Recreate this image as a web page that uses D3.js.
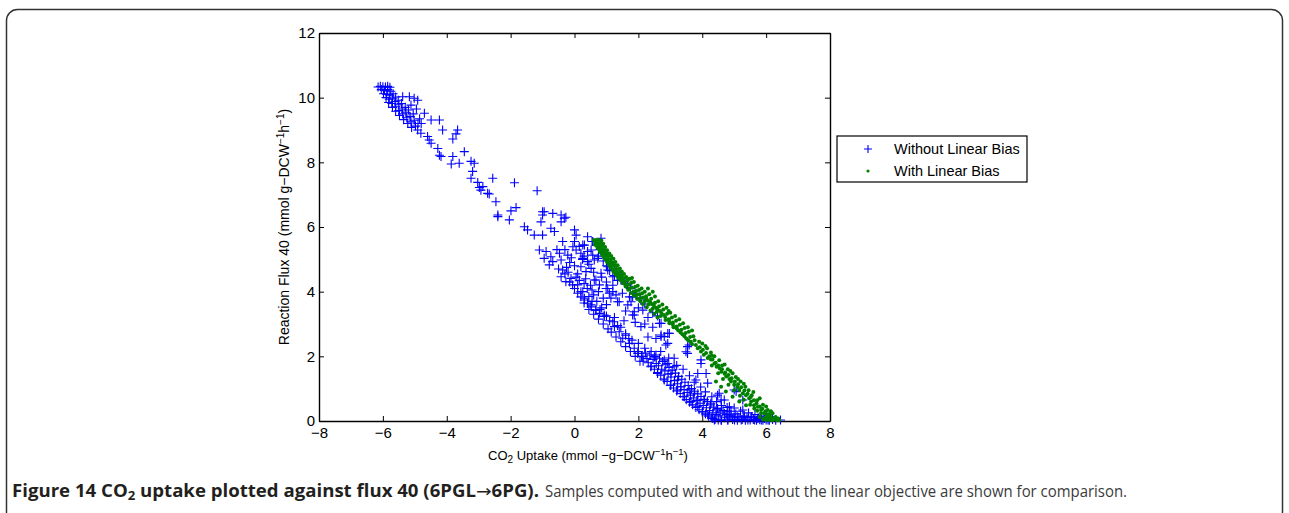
<!DOCTYPE html>
<html>
<head>
<meta charset="utf-8">
<script src="https://cdn.jsdelivr.net/npm/d3@7"></script>
<style>
  body { margin: 0; background: #fff; }
  svg { display: block; }
</style>
</head>
<body>
<div id="chart"></div>
<script>
// Axis ticks
const xTicks = [-8, -6, -4, -2, 0, 2, 4, 6, 8];
const yTicks = [0, 2, 4, 6, 8, 10, 12];

// Legend labels
const seriesNames = ["Without Linear Bias", "With Linear Bias"];

// Samples without linear bias: [CO2 uptake, flux 40]
const withoutBias = [
  // top-left wedge
  [-6.15,10.33],[-6.08,10.35],[-6.0,10.34],[-5.92,10.33],[-5.85,10.35],[-5.78,10.32],[-6.05,10.25],[-5.95,10.22],
  [-5.85,10.25],[-5.75,10.2],[-5.98,10.12],[-5.88,10.1],[-5.78,10.08],[-5.68,10.12],[-5.9,10.0],[-5.8,9.95],
  [-5.7,9.98],[-5.6,10.02],[-5.82,9.85],[-5.72,9.82],[-5.62,9.88],[-5.52,9.92],[-5.7,9.7],[-5.6,9.72],
  [-5.5,9.78],[-5.42,9.82],[-5.6,9.58],[-5.5,9.6],[-5.4,9.65],[-5.3,9.7],[-5.48,9.45],[-5.38,9.5],
  [-5.28,9.55],[-5.2,9.62],[-5.35,9.32],[-5.25,9.38],[-5.15,9.42],[-5.05,9.5],[-5.22,9.2],[-5.12,9.25],
  [-5.02,9.3],[-5.1,9.08],[-4.98,9.12],[-4.9,9.2],[-4.85,9.35],[-5.38,10.03],[-5.17,10.03],[-5.02,9.98],
  [-4.91,9.92],[-5.12,9.77],[-4.95,9.65],[-4.8,9.2],[-4.91,9.0],[-4.81,8.9],[-4.6,8.8],
  // sparse chain
  [-4.7,9.52],[-4.49,9.31],[-4.23,9.31],[-4.13,9.0],[-3.66,9.0],[-3.71,8.88],[-3.81,8.72],[-4.55,8.69],
  [-4.49,8.59],[-4.28,8.43],[-4.23,8.22],[-4.18,8.18],[-3.81,8.18],[-3.86,7.95],[-3.61,7.97],[-3.45,8.33],
  [-3.24,8.03],[-3.14,7.97],[-3.19,7.72],[-3.24,7.51],[-3.03,7.38],[-2.98,7.22],[-2.93,7.14],[-2.67,7.02],
  [-2.56,7.51],[-2.46,6.78],[-1.88,7.37],[-1.17,7.12],[-2.40,6.37],[-2.40,6.32],[-2.04,6.22],[-1.99,6.5],
  [-1.83,6.6],[-2.87,7.25],[-2.72,7.04],
  // middle region
  [-1.0,6.47],[-0.68,6.42],[-0.42,6.37],[-0.27,6.3],[-1.57,6.01],[-1.47,5.91],[-1.26,5.75],[-1.0,5.75],
  [-0.95,6.47],[-1.0,6.37],[-1.05,6.16],[-0.32,6.27],[-0.42,6.16],[-0.74,5.96],[-0.63,5.86],[-0.37,5.55],
  [0.0,5.91],[0.05,5.75],[0.0,5.55],[-0.05,5.39],[0.31,5.44],[-1.10,5.29],[-0.89,5.24],[-0.95,5.03],
  [-0.74,5.08],[-0.79,4.83],[-0.68,4.93],[-0.42,4.98],[-0.47,5.19],[-0.21,5.13],[-0.37,4.67],[-0.42,4.46],
  [-0.27,4.31],[-0.11,4.41],[-0.06,4.21],[0.10,4.21],[0.20,4.0],[0.20,3.84],[0.31,3.74],[0.41,3.64],
  [0.52,3.53],[0.67,3.43],[0.78,3.33],[0.93,3.23],[0.20,4.77],[0.41,4.93],[0.52,4.72],[0.67,4.36],
  [0.78,4.21],[1.04,4.10],[1.09,3.95],[1.35,3.69],[1.67,3.59],[1.82,3.84],[1.87,3.38],[0.05,5.29],
  [0.20,5.19],[0.25,5.0],[0.41,5.24],[0.57,5.13],[0.73,5.03],[0.57,5.55],[0.83,5.65],[1.04,4.67],
  [1.20,4.46],[1.46,4.36],[1.67,4.21],[-0.15,4.9],[-0.2,4.6],[0.1,4.55],[0.0,4.8],[-0.55,5.3],
  [-0.3,5.3],[-0.1,5.05],[0.15,5.4],[0.3,5.1],[0.45,4.85],[0.6,4.6],[0.35,4.4],[0.5,4.2],
  [0.75,4.0],[0.9,3.8],[1.0,3.6],[0.15,4.35],[0.4,4.1],[0.6,3.9],[0.7,3.7],[0.45,3.85],
  [-0.25,4.75],[0.05,4.45],[0.3,4.25],[0.55,4.05],[0.85,4.45],[1.0,4.3],[1.2,4.2],[1.3,3.9],
  [1.5,3.95],[1.6,3.4],[1.55,3.1],[1.9,3.05],[2.3,3.2],[2.45,2.9],[2.3,2.6],[2.55,2.55],
  [2.45,3.35],[2.6,3.25],[2.0,3.5],[2.2,3.0],
  // near the biased band
  [0.41,5.70],[0.26,5.44],[0.52,5.29],[0.26,5.03],[0.62,4.98],[0.88,5.29],[1.04,4.77],[0.36,4.62],
  [0.62,4.36],[0.83,4.57],[0.99,4.10],[1.20,4.0],[1.14,3.80],[1.40,3.69],[1.46,4.36],[1.72,3.84],
  [1.77,3.69],[1.87,3.28],[2.14,3.43],[2.08,2.92],[0.55,5.55],[0.7,5.45],[0.8,5.3],[0.95,5.15],
  [1.05,5.0],[1.15,4.85],[1.3,4.7],[1.4,4.55],[1.5,4.4],[1.65,4.25],[1.75,4.1],[1.9,3.95],
  [2.05,3.8],[2.2,3.62],[0.9,4.95],[1.0,4.8],[1.1,4.65],[1.25,4.5],[1.35,4.35],[0.75,5.1],
  // lower band, upper part
  [0.26,4.0],[0.31,3.80],[0.52,3.59],[0.67,3.43],[0.93,3.28],[1.20,3.07],[1.25,2.92],[1.40,2.76],
  [1.51,2.56],[1.72,2.40],[1.87,2.25],[1.98,2.09],[2.14,1.99],[2.55,2.04],[2.71,2.61],[2.66,3.02],
  [2.97,2.71],[2.86,2.35],[1.82,3.28],[2.08,3.74],[2.71,3.02],[2.71,2.66],[2.92,2.40],[3.49,2.14],
  [3.59,2.35],[3.86,1.47],[4.12,1.47],[3.96,1.78],[3.80,1.27],[4.17,1.17],[4.53,0.86],[5.0,0.96],
  [5.27,0.65],[5.27,0.34],[4.69,0.65],[3.12,1.94],[2.92,1.78],[3.54,2.09],[3.96,1.89],[4.48,0.80],
  [4.59,0.65],[4.85,0.44],[5.06,0.91],[2.92,2.71],[3.54,2.30],[2.81,2.61],[1.1,3.1],[1.6,2.7],
  [0.85,3.5],[1.35,2.95],[1.7,2.55],
  [-0.5,4.7],[-0.3,4.55],[-0.15,4.3],[0.0,4.1],[0.1,3.95],[0.3,3.65],[0.45,3.45],[0.6,3.3],
  [0.75,3.15],[0.9,3.0],[1.05,2.85],[1.15,2.75],[1.3,2.6],[1.45,2.45],[1.6,2.3],[1.75,2.15],
  [1.9,2.0],[2.05,1.85],[0.55,3.7],[0.8,3.45],[1.0,3.25],[1.25,3.2],[1.45,2.9],[1.6,2.65],
  [1.8,2.5],[2.0,2.4],[2.2,2.25],[2.4,2.15],
  // lower band, dense part
  [2.0,2.15],[2.1,2.0],[2.15,1.85],[2.22,2.1],[2.27,1.93],[2.31,1.8],[2.36,2.04],[2.4,1.7],
  [2.46,1.9],[2.5,1.6],[2.52,1.98],[2.56,1.78],[2.6,1.5],[2.63,1.71],[2.66,1.94],[2.7,1.42],
  [2.73,1.6],[2.76,1.84],[2.8,1.3],[2.83,1.55],[2.86,1.74],[2.9,1.22],[2.93,1.45],[2.96,1.66],
  [3.0,1.1],[3.02,1.36],[3.06,1.57],[3.1,1.02],[3.13,1.25],[3.16,1.48],[3.2,0.93],[3.22,1.15],
  [3.26,1.38],[3.31,0.85],[3.33,1.06],[3.36,1.29],[3.4,0.76],[3.43,0.97],[3.46,1.2],[3.5,0.66],
  [3.53,0.88],[3.56,1.1],[3.6,0.58],[3.63,0.8],[3.66,1.0],[3.7,0.5],[3.72,0.71],[3.76,0.92],
  [3.8,0.42],[3.83,0.63],[3.86,0.84],[3.9,0.35],[3.93,0.55],[3.96,0.76],[4.0,0.28],[4.03,0.48],
  [4.06,0.67],[4.1,0.22],[4.13,0.41],[4.16,0.6],[4.2,0.15],[4.23,0.32],[4.26,0.5],[4.3,0.1],
  [4.33,0.25],[4.36,0.43],[4.4,0.05],[4.43,0.2],[4.46,0.35],[4.5,0.03],[4.52,0.16],[4.56,0.28],
  [2.39,1.68],[2.60,1.47],[2.81,1.27],[3.02,1.11],[3.23,0.96],[3.44,0.75],[3.65,0.60],[3.86,0.44],
  [4.01,0.29],[4.17,0.19],[4.33,0.08],[3.02,1.47],[3.23,1.27],[3.33,1.06],[3.59,0.96],[3.75,0.86],
  [3.86,0.65],[4.06,0.65],[4.27,0.55],[4.48,0.39],[3.12,1.68],[2.81,1.89],[2.50,1.99],
  [2.7,2.15],[2.95,1.95],[3.2,1.72],[3.4,1.6],[3.6,1.4],[3.75,1.2],[3.95,1.05],[4.1,0.9],
  [4.3,0.75],[4.45,0.6],[4.6,0.48],[4.8,0.3],
  // bottom cluster
  [4.6,0.02],[4.69,0.24],[4.7,0.1],[4.75,0.2],[4.8,0.03],[4.85,0.15],[4.9,0.3],[4.9,0.19],
  [4.95,0.05],[5.0,0.12],[5.05,0.22],[5.1,0.02],[5.11,0.13],[5.15,0.1],[5.2,0.3],[5.25,0.05],
  [5.3,0.15],[5.32,0.13],[5.35,0.02],[5.4,0.1],[5.45,0.25],[5.5,0.03],[5.53,0.13],[5.55,0.12],
  [5.6,0.05],[5.65,0.2],[5.7,0.02],[5.74,0.08],[5.75,0.1],[5.8,0.04],[5.85,0.15],[5.9,0.02],
  [5.94,0.08],[5.95,0.08],[6.0,0.03],[6.05,0.12],[6.1,0.02],[6.2,0.05],[6.3,0.02],[6.45,0.03],
  [4.65,0.32],[4.78,0.42],[5.0,0.4],[4.38,0.03],[4.59,0.03],[4.80,0.03],[5.01,0.03],[5.22,0.03],
  [5.43,0.03],[5.64,0.03],[5.85,0.03],[6.06,0.03]
];

// Samples with linear bias: [CO2 uptake, flux 40]
const withBias = [
  [0.6,5.6],[0.68,5.6],[0.76,5.6],[0.84,5.58],[0.65,5.52],[0.73,5.5],[0.82,5.5],[0.9,5.48],
  [0.7,5.42],[0.79,5.4],[0.88,5.4],[0.96,5.38],[0.76,5.32],[0.85,5.3],[0.94,5.3],[1.02,5.28],
  [0.82,5.22],[0.91,5.2],[1.0,5.2],[1.09,5.18],[0.88,5.12],[0.97,5.1],[1.06,5.1],[1.15,5.1],
  [0.95,5.02],[1.04,5.0],[1.13,5.0],[1.22,5.02],[1.02,4.92],[1.1,4.9],[1.2,4.9],[1.28,4.92],
  [1.08,4.82],[1.17,4.8],[1.26,4.8],[1.35,4.82],[1.15,4.72],[1.24,4.7],[1.33,4.7],[1.42,4.72],
  [1.22,4.62],[1.31,4.6],[1.4,4.6],[1.48,4.62],[1.3,4.52],[1.38,4.5],[1.47,4.5],[1.55,4.55],
  [1.37,4.42],[1.45,4.4],[1.54,4.42],[1.62,4.45],
  [0.64,5.45],[0.72,5.36],[0.8,5.25],[0.87,5.16],[0.93,5.06],[1.0,4.97],[1.06,4.88],[1.12,4.78],
  [1.2,4.68],[1.27,4.58],[1.35,4.48],[1.43,4.36],[1.52,4.26],[1.6,4.16],[1.68,4.06],[1.77,3.96],
  [1.86,3.87],[1.96,3.78],[2.06,3.7],[2.14,3.62],[2.26,3.52],[2.38,3.42],[2.5,3.32],[2.6,3.2],
  [1.5,4.32],[1.58,4.3],[1.66,4.35],[1.72,4.4],[1.8,4.42],[1.62,4.2],[1.7,4.22],[1.78,4.28],
  [1.86,4.3],[1.72,4.1],[1.8,4.12],[1.9,4.15],[1.98,4.18],[1.85,4.0],[1.93,4.02],[2.02,4.05],
  [2.1,4.1],[1.95,3.9],[2.04,3.92],[2.12,3.95],[2.2,4.0],[2.3,4.1],[2.06,3.8],[2.15,3.82],
  [2.24,3.86],[2.34,3.92],[2.45,4.0],
  [2.2,3.7],[2.3,3.72],[2.4,3.78],[2.52,3.85],[2.32,3.6],[2.42,3.62],[2.52,3.66],[2.62,3.7],
  [2.45,3.48],[2.55,3.5],[2.65,3.55],[2.75,3.6],[2.58,3.38],[2.68,3.4],[2.78,3.45],[2.88,3.5],
  [2.95,3.4],[2.7,3.25],[2.8,3.28],[2.9,3.32],[3.0,3.35],[2.85,3.12],[2.95,3.15],[3.05,3.2],
  [3.15,3.25],[2.97,3.02],[3.08,3.05],[3.18,3.1],[3.28,3.15],[3.1,2.9],[3.2,2.92],[3.3,2.98],
  [3.4,3.02],[3.25,2.8],[3.35,2.82],[3.45,2.88],[3.55,2.9],[3.38,2.68],[3.48,2.72],[3.58,2.76],
  [3.68,2.8],[3.5,2.55],[3.62,2.6],[3.72,2.62],[3.64,2.45],[3.76,2.5],
  [2.25,3.78],[2.37,3.68],[2.48,3.58],[2.6,3.46],[2.72,3.34],[2.84,3.22],[2.96,3.1],[3.08,2.98],
  [3.2,2.86],[3.32,2.74],[3.44,2.62],[3.56,2.5],[3.68,2.38],[3.8,2.35],[3.92,2.28],[4.02,2.2],
  [4.12,2.1],[4.22,2.0],[4.32,1.9],[4.42,1.8],[4.5,1.72],[4.62,1.6],[4.72,1.5],[4.82,1.42],
  [4.92,1.32],[5.02,1.22],[5.12,1.14],[5.22,1.04],[5.32,0.94],[5.42,0.84],[5.52,0.74],[5.62,0.64],
  [5.7,0.55],[5.8,0.45],[5.88,0.38],[5.98,0.3],[6.1,0.22],[4.3,1.72],[4.5,1.48],[4.65,1.3],
  [4.82,1.12],[5.0,0.95],[5.18,0.78],[5.3,0.66],[5.5,0.5],[5.72,0.32],[4.3,2.02],[4.62,1.72],
  [4.88,1.55],[5.12,1.3],[5.3,1.15],[5.6,0.9],[5.8,0.7],[6.0,0.45],[6.15,0.3],
  [3.9,2.45],[4.0,2.4],[4.1,2.32],[4.15,2.25],[3.86,2.25],[3.96,2.15],[4.05,2.05],[4.17,1.95],
  [4.27,1.9],[4.27,2.12],[4.38,2.0],[4.38,1.78],[4.45,1.68],[4.53,1.88],[4.55,1.62],[4.6,1.52],
  [4.7,1.75],[4.7,1.46],[4.75,1.38],[4.8,1.6],[4.85,1.3],[4.95,1.48],[4.9,1.22],[5.0,1.12],
  [5.05,1.36],[5.1,1.05],[5.2,1.22],[5.16,0.96],[5.27,0.86],[5.35,1.06],[5.37,0.8],[5.45,0.95],
  [5.47,0.7],[5.55,0.8],[5.53,0.6],[5.62,0.49],[5.72,0.64],[5.74,0.44],[5.84,0.34],[5.9,0.5],
  [5.94,0.24],[6.05,0.34],[6.05,0.13],[6.15,0.08],[6.2,0.24],[6.3,0.12],[6.31,0.05],[6.41,0.03],
  [4.43,1.22],[4.59,1.06],[4.74,0.91],[4.95,0.75],[5.16,0.6],[5.37,0.49],[5.63,0.39],[5.84,0.24],
  [5.94,0.08],[6.1,0.03],[6.0,0.03],[5.9,0.05],[6.2,0.02],[6.35,0.02],[6.25,0.1],[6.02,0.2],
  [5.98,0.1],[6.12,0.16],[6.38,0.08],[5.8,0.12]
];

const W = 1289, H = 513;
const plot = { left: 319, right: 830, top: 33, bottom: 421 };
const font = "'Liberation Sans', Arial, Helvetica, sans-serif";

const svg = d3.select("#chart").append("svg")
  .attr("width", W)
  .attr("height", H)
  .style("font-family", font);

// page frame with rounded corners
svg.append("rect")
  .attr("x", 6.5).attr("y", 9.5)
  .attr("width", 1276).attr("height", 530)
  .attr("rx", 11)
  .attr("fill", "none")
  .attr("stroke", "#333")
  .attr("stroke-width", 1.5);

const x = d3.scaleLinear().domain([-8, 8]).range([plot.left, plot.right]);
const y = d3.scaleLinear().domain([0, 12]).range([plot.bottom, plot.top]);

const fmt = d => d3.format("d")(d);

// axes (ticks point inward, box on all sides)
const gx = svg.append("g")
  .attr("transform", `translate(0,${plot.bottom})`)
  .call(d3.axisBottom(x).tickValues(xTicks).tickFormat(fmt).tickSizeInner(-5).tickSizeOuter(0).tickPadding(6));
const gy = svg.append("g")
  .attr("transform", `translate(${plot.left},0)`)
  .call(d3.axisLeft(y).tickValues(yTicks).tickFormat(fmt).tickSizeInner(-5).tickSizeOuter(0).tickPadding(4));
const gt = svg.append("g")
  .attr("transform", `translate(0,${plot.top})`)
  .call(d3.axisTop(x).tickValues(xTicks).tickFormat("").tickSizeInner(-5).tickSizeOuter(0));
const gr = svg.append("g")
  .attr("transform", `translate(${plot.right},0)`)
  .call(d3.axisRight(y).tickValues(yTicks).tickFormat("").tickSizeInner(-5).tickSizeOuter(0));

[gx, gy, gt, gr].forEach(g => {
  g.attr("font-size", 15).attr("font-family", font);
  g.select(".domain").attr("stroke", "#000").attr("stroke-width", 1.4);
  g.selectAll(".tick line").attr("stroke", "#000").attr("stroke-width", 1);
  g.selectAll(".tick text").attr("fill", "#000");
});

// points
const plus = svg.append("g");
plus.selectAll("path")
  .data(withoutBias)
  .join("path")
    .attr("d", d => {
      const cx = x(d[0]), cy = y(d[1]), r = 4.5;
      return `M${cx - r},${cy}H${cx + r}M${cx},${cy - r}V${cy + r}`;
    })
    .attr("stroke", "#0000ff")
    .attr("stroke-width", 1.1)
    .attr("fill", "none");

const dots = svg.append("g");
dots.selectAll("circle")
  .data(withBias)
  .join("circle")
    .attr("cx", d => x(d[0]))
    .attr("cy", d => y(d[1]))
    .attr("r", 2.0)
    .attr("fill", "#008000");

// axis titles
const xt = svg.append("text")
  .attr("x", 488)
  .attr("y", 460)
  .style("font-size", "13px")
  .attr("fill", "#000");
xt.append("tspan").text("CO");
xt.append("tspan").attr("baseline-shift", "-30%").style("font-size", "10px").text("2");
xt.append("tspan").text(" Uptake (mmol \u2212g\u2212DCW");
xt.append("tspan").attr("baseline-shift", "super").style("font-size", "9.5px").text("\u22121");
xt.append("tspan").text("h");
xt.append("tspan").attr("baseline-shift", "super").style("font-size", "9.5px").text("\u22121");
xt.append("tspan").text(")");

const yt = svg.append("text")
  .attr("transform", `translate(289,${(plot.top + plot.bottom) / 2}) rotate(-90)`)
  .attr("text-anchor", "middle")
  .style("font-size", "14px")
  .attr("fill", "#000");
yt.append("tspan").text("Reaction Flux 40 (mmol g\u2212DCW");
yt.append("tspan").attr("baseline-shift", "super").style("font-size", "10px").text("\u22121");
yt.append("tspan").text("h");
yt.append("tspan").attr("baseline-shift", "super").style("font-size", "10px").text("\u22121");
yt.append("tspan").text(")");

// legend
const lg = svg.append("g").attr("transform", "translate(837,136)");
lg.append("rect")
  .attr("width", 190).attr("height", 46)
  .attr("fill", "#fff").attr("stroke", "#000").attr("stroke-width", 1.2);
lg.append("path")
  .attr("d", "M27,13H35M31,9V17")
  .attr("stroke", "#0000ff").attr("stroke-width", 1.1);
lg.append("circle").attr("cx", 31).attr("cy", 35).attr("r", 1.6).attr("fill", "#008000");
lg.selectAll("text.lab")
  .data(seriesNames)
  .join("text")
    .attr("class", "lab")
    .attr("x", 57)
    .attr("y", (d, i) => 18 + i * 22)
    .style("font-size", "14.5px")
    .attr("fill", "#000")
    .text(d => d);

// caption: bold title, then plain sentence
const capFont = "'Open Sans', 'Noto Sans', sans-serif";
const capBold = svg.append("text")
  .attr("x", 12)
  .attr("y", 497)
  .attr("textLength", 527)
  .attr("lengthAdjust", "spacingAndGlyphs")
  .style("font-family", capFont)
  .style("font-size", "17px")
  .attr("font-weight", "bold")
  .attr("fill", "#231f20");
capBold.append("tspan").text("Figure 14 CO");
capBold.append("tspan").attr("dy", 3).style("font-size", "12px").text("2");
capBold.append("tspan").attr("dy", -3).text(" uptake plotted against flux 40 (6PGL");
capBold.append("tspan").style("font-family", "'DejaVu Sans', sans-serif").style("font-weight", "normal").text("\u2192");
capBold.append("tspan").text("6PG).");

svg.append("text")
  .attr("x", 545)
  .attr("y", 497)
  .attr("textLength", 582)
  .attr("lengthAdjust", "spacingAndGlyphs")
  .style("font-family", capFont)
  .style("font-size", "17px")
  .attr("fill", "#3b3b3b")
  .text("Samples computed with and without the linear objective are shown for comparison.");
</script>
</body>
</html>
